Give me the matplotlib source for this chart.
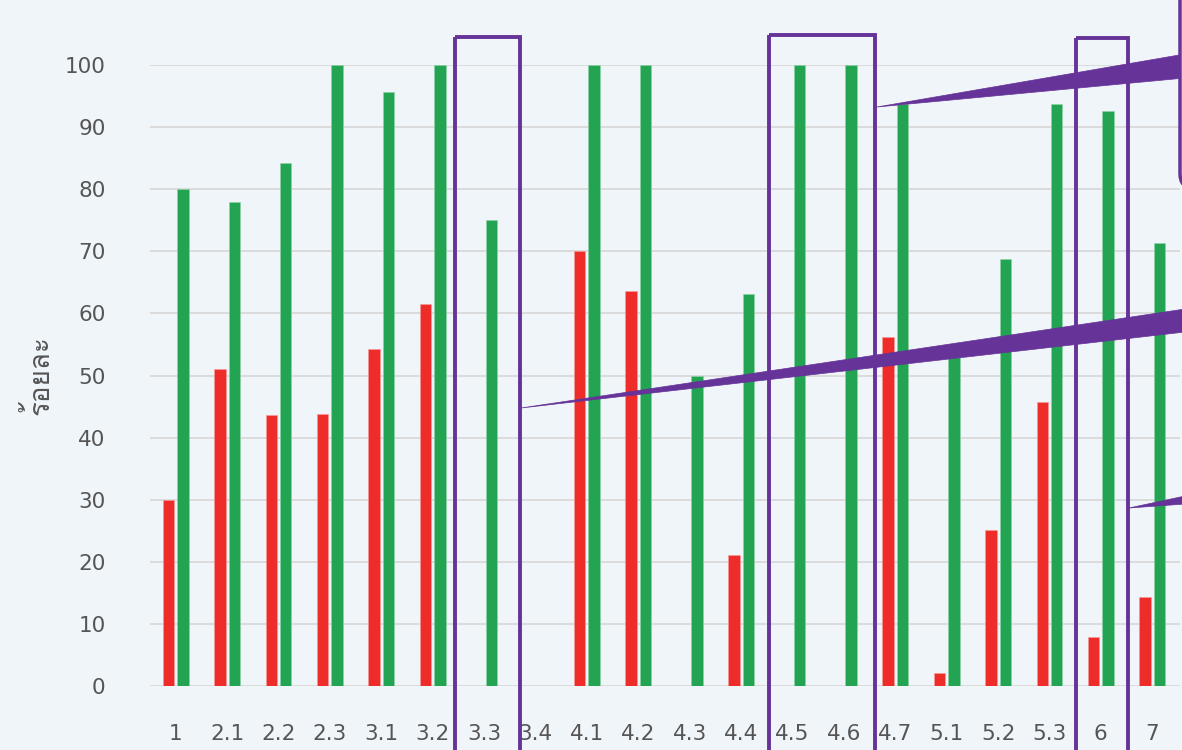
import matplotlib
matplotlib.use('Agg')
import matplotlib.pyplot as plt
import numpy as np
from matplotlib import font_manager
from matplotlib.ft2font import FT2Font
from matplotlib.patches import Rectangle, Polygon, FancyBboxPatch

# ---- data -------------------------------------------------------------
categories = ['1', '2.1', '2.2', '2.3', '3.1', '3.2', '3.3', '3.4', '4.1', '4.2',
              '4.3', '4.4', '4.5', '4.6', '4.7', '5.1', '5.2', '5.3', '6', '7']
red_values = [30.0, 51.0, 43.6, 43.8, 54.3, 61.5, 0, 0, 70.0, 63.6,
              0, 21.1, 0, 0, 56.2, 2.1, 25.1, 45.7, 7.9, 14.3]
green_values = [80.0, 78.0, 84.2, 100, 95.7, 100, 75.0, 0, 100, 100,
                50.0, 63.1, 100, 100, 93.7, 53.0, 68.8, 93.7, 92.6, 71.3]
y_ticks = list(range(0, 101, 10))
y_label = 'ร้อยละ'

BG = '#f0f5f9'
RED = '#ee2d2a'
GREEN = '#22a453'
PURPLE = '#663399'
TEXT = '#555555'


def find_font(char, fallback='DejaVu Sans'):
  for f in font_manager.fontManager.ttflist:
    try:
      if FT2Font(f.fname).get_char_index(ord(char)):
        return f.name
    except Exception:
      pass
  return fallback


thai_font = find_font('ร')

W, H = 1182, 750
fig = plt.figure(figsize=(W / 100, H / 100), dpi=100, facecolor=BG)
ax = fig.add_axes([150 / W, (H - 686) / H, 1030 / W, (686 - 65) / H])
ax.set_facecolor(BG)

x = np.arange(len(categories))
bw, off = 0.22, 0.14
ax.bar(x - off, red_values, bw, color=RED, edgecolor='#f79a98', linewidth=0.4, zorder=3)
ax.bar(x + off, green_values, bw, color=GREEN, edgecolor='#8fd3a6', linewidth=0.4, zorder=3)

ax.set_xlim(-0.5, 19.54)
ax.set_ylim(0, 100)
ax.set_yticks(y_ticks)
ax.set_xticks(x)
ax.set_xticklabels(categories)
ax.grid(axis='y', color='#d9d9d9', linewidth=1.3, zorder=0)
ax.tick_params(length=0, labelsize=15.5, labelcolor=TEXT)
ax.tick_params(axis='x', pad=27)
ax.tick_params(axis='y', pad=32)
for s in ax.spines.values():
  s.set_visible(False)
ax.set_ylabel(y_label, family=[thai_font, 'DejaVu Sans'], fontsize=20,
              color=TEXT, labelpad=7)

# ---- callout overlay (pixel coordinates) ------------------------------
ov = fig.add_axes([0, 0, 1, 1], zorder=10)
ov.set_xlim(0, W)
ov.set_ylim(H, 0)
ov.axis('off')
ov.patch.set_alpha(0)

for x0, x1, y0 in [(455, 520, 37), (769, 875, 35), (1076, 1128, 38)]:
  ov.add_patch(Rectangle((x0, y0), x1 - x0, H + 20 - y0, fill=False,
                         edgecolor=PURPLE, linewidth=2.8))

wedges = [
  [(877, 107), (1185, 54), (1185, 78)],
  [(521, 408), (1185, 309), (1185, 332)],
  [(1129, 508), (1185, 496), (1185, 504)],
]
for pts in wedges:
  ov.add_patch(Polygon(pts, closed=True, facecolor=PURPLE, edgecolor=PURPLE,
                       linewidth=0.5))

ov.add_patch(FancyBboxPatch((1180, -40), 200, 228,
                            boxstyle='round,pad=0,rounding_size=14',
                            facecolor=BG, edgecolor=PURPLE, linewidth=2.5))

fig.savefig('out.png', dpi=100, facecolor=BG)
